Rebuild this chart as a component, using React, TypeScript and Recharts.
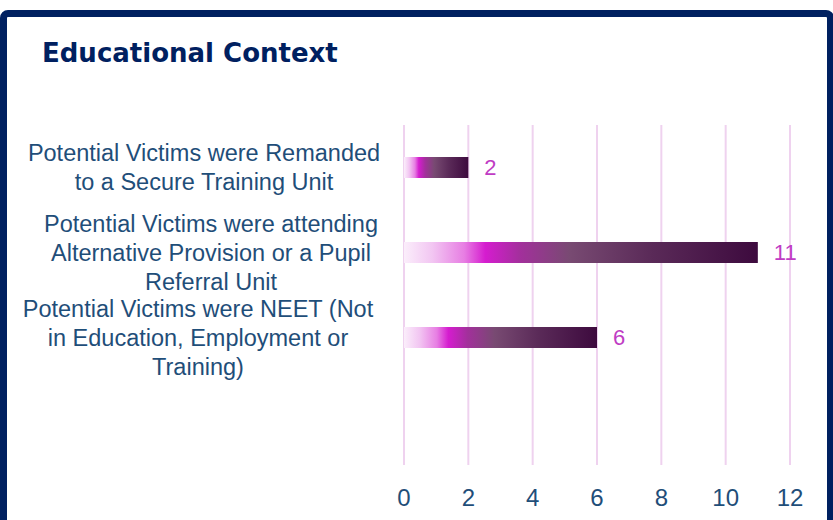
import React from 'react';
import { BarChart, Bar, XAxis, YAxis, CartesianGrid, LabelList } from 'recharts';

const title = 'Educational Context';
const categories = ['remanded', 'alternative', 'neet', 'blank'];
const labelLines: string[][] = [
  ['Potential Victims were Remanded', 'to a Secure Training Unit'],
  ['Potential Victims were attending', 'Alternative Provision or a Pupil', 'Referral Unit'],
  ['Potential Victims were NEET (Not', 'in Education, Employment or', 'Training)'],
  [],
];
const values: (number | null)[] = [2, 11, 6, null];
const xTicks = [0, 2, 4, 6, 8, 10, 12];

const data = categories.map((c, i) => ({ name: c, value: values[i] }));

const FONT = '"Liberation Sans", Arial, sans-serif';
const TEXT_BLUE = '#1f4e79';
const LABEL_SHIFT = [0, 7, -6, 0];

const CatTick = (props: any) => {
  const { y, payload } = props;
  const idx = categories.indexOf(payload.value);
  const lines = labelLines[idx] || [];
  if (!lines.length) return null;
  const lh = 29;
  const cx = 204 + (LABEL_SHIFT[idx] || 0);
  const start = y - ((lines.length - 1) * lh) / 2;
  return (
    <text x={cx} y={start} textAnchor="middle" fill={TEXT_BLUE} fontSize={23.5} fontFamily={FONT}>
      {lines.map((l, i) => (
        <tspan key={i} x={cx} y={start + i * lh} dy="0.35em">
          {l}
        </tspan>
      ))}
    </text>
  );
};

export default function App() {
  return (
    <div style={{ position: 'fixed', left: 0, top: 0, width: 833, height: 520, overflow: 'hidden', background: '#fff' }}>
      <div
        style={{
          position: 'absolute',
          left: 0,
          top: 10,
          width: 834,
          height: 540,
          border: '7px solid #002060',
          borderRadius: 8,
          boxSizing: 'border-box',
        }}
      />
      <div
        style={{
          position: 'absolute',
          left: 42,
          top: 40,
          fontFamily: '"DejaVu Sans", sans-serif',
          fontWeight: 'bold',
          fontSize: 26,
          lineHeight: '26px',
          color: '#002060',
          whiteSpace: 'nowrap',
        }}
      >
        {title}
      </div>
      <div style={{ position: 'absolute', left: 0, top: 0 }}>
        <BarChart
          width={833}
          height={520}
          data={data}
          layout="vertical"
          margin={{ top: 125, right: 43, bottom: 0, left: 0 }}
        >
          <defs>
            <linearGradient id="barGrad" x1="0" y1="0" x2="1" y2="0">
              <stop offset="0" stopColor="#fbeefb" />
              <stop offset="0.08" stopColor="#f2c6f2" />
              <stop offset="0.17" stopColor="#e77ee3" />
              <stop offset="0.23" stopColor="#d51ccf" />
              <stop offset="0.33" stopColor="#a2309b" />
              <stop offset="0.47" stopColor="#784a72" />
              <stop offset="0.7" stopColor="#5a2a58" />
              <stop offset="1" stopColor="#3d0a3e" />
            </linearGradient>
          </defs>
          <CartesianGrid horizontal={false} vertical={true} stroke="#efd2ef" strokeWidth={2} />
          <XAxis
            type="number"
            domain={[0, 12]}
            ticks={xTicks}
            axisLine={false}
            tickLine={false}
            height={55}
            tickMargin={18}
            tick={{ fill: TEXT_BLUE, fontSize: 24, fontFamily: FONT }}
          />
          <YAxis
            type="category"
            dataKey="name"
            width={404}
            axisLine={false}
            tickLine={false}
            interval={0}
            tick={<CatTick />}
          />
          <Bar dataKey="value" fill="url(#barGrad)" barSize={21} isAnimationActive={false}>
            <LabelList dataKey="value" position="right" offset={16} fill="#c03cc4" fontSize={22} fontFamily={FONT} />
          </Bar>
        </BarChart>
      </div>
    </div>
  );
}
